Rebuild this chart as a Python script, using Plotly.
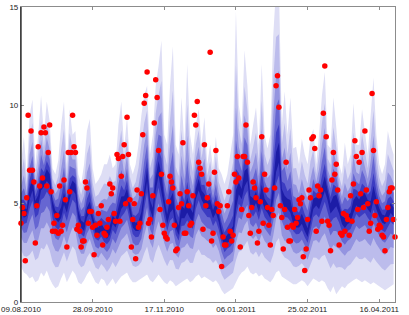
import pandas as pd
import plotly.graph_objects as go

# observed daily values (red dots), starting 09.08.2010
obs = [4.0, 4.8, 4.5, 2.1, 5.3, 9.5, 6.7, 8.7, 6.7, 6.1, 3.0, 4.9, 7.9, 5.9, 8.6, 6.3, 8.9, 8.6, 5.9, 7.6,
       9.0, 5.6, 3.6, 4.0, 3.6, 4.4, 3.5, 5.9, 3.6, 3.9, 6.2, 5.2, 2.8, 7.6, 5.6, 7.6, 9.5, 7.9, 7.6, 3.7,
       3.9, 3.6, 2.8, 3.1, 3.1, 6.1, 5.8, 4.0, 4.6, 4.6, 3.8, 2.4, 3.9, 3.4, 4.5, 4.0, 4.9, 2.9, 3.5, 3.4,
       3.8, 4.2, 6.0, 5.5, 5.8, 4.5, 4.1, 7.5, 7.3, 4.1, 6.4, 7.4, 8.0, 5.0, 9.4, 7.5, 5.2, 2.8, 4.2, 5.0,
       2.2, 5.7, 3.8, 4.0, 5.5, 8.5, 10.1, 10.5, 11.7, 4.0, 4.2, 3.3, 5.4, 9.1, 11.3, 10.4, 7.7, 4.7, 6.5, 3.9,
       3.5, 3.3, 3.2, 5.1, 6.4, 6.1, 5.8, 3.9, 2.6, 2.7, 4.8, 5.5, 5.0, 8.1, 3.5, 3.5, 5.6, 4.9, 3.9, 4.0,
       5.4, 9.5, 9.0, 10.2, 7.1, 6.8, 6.5, 3.7, 8.0, 4.9, 5.3, 6.0, 12.7, 3.1, 3.5, 6.6, 7.7, 5.0, 4.6, 4.9,
       1.8, 3.3, 2.9, 2.9, 4.9, 5.6, 3.6, 3.1, 3.4, 6.5, 6.1, 7.4, 6.3, 2.8, 4.7, 7.4, 7.4, 9.0, 7.1, 4.4,
       3.5, 4.8, 6.1, 5.8, 5.3, 3.0, 3.6, 5.1, 8.4, 4.0, 6.5, 5.7, 4.8, 3.9, 2.9, 4.7, 4.4, 5.8, 11.0, 11.5,
       9.9, 4.9, 4.3, 2.7, 4.7, 7.1, 3.8, 3.1, 3.1, 3.9, 3.8, 4.7, 4.0, 4.3, 5.2, 5.0, 5.3, 2.3, 1.6, 2.7,
       4.2, 5.7, 5.3, 8.3, 8.4, 7.8, 3.6, 5.9, 5.4, 5.7, 4.1, 9.6, 12.0, 8.4, 4.1, 3.9, 2.6, 6.2, 7.6, 6.5,
       7.0, 5.7, 2.9, 3.5, 3.4, 4.5, 3.6, 4.4, 4.2, 3.4, 5.4, 4.1, 6.0, 8.2, 7.4, 4.7, 7.1, 5.5, 7.6, 4.8,
       8.7, 5.7, 5.0, 3.6, 4.0, 10.6, 7.7, 4.4, 5.1, 3.7, 3.9, 3.8, 3.4, 3.3, 2.6, 4.2, 4.8, 5.6, 5.8, 5.8,
       4.2, 3.3]

# forecast distribution, every second day: outer lower, median, outer upper
band_lo = [1.8, 1.5, 1.4, 1.2, 1.3, 1.0, 1.1, 1.5, 1.3, 1.6, 1.2, 0.9, 0.7, 0.8, 1.2, 1.5, 1.0, 1.3, 1.6, 1.4,
           1.0, 0.9, 1.1, 1.4, 1.6, 1.3, 1.0, 0.9, 1.2, 1.1, 0.8, 1.0, 1.2, 0.9, 1.1, 1.3, 1.4, 1.5, 1.2, 1.0,
           1.0, 1.1, 1.2, 1.3, 1.4, 1.1, 1.0, 1.2, 1.4, 1.2, 1.0, 0.9, 1.1, 1.0, 0.8, 0.9, 1.0, 1.1, 1.2, 1.0,
           1.1, 1.3, 1.4, 1.2, 1.3, 1.2, 1.1, 1.0, 1.1, 0.9, 0.6, 0.4, 0.5, 0.6, 0.7, 1.0, 1.3, 1.5, 1.6, 1.8,
           1.5, 1.4, 1.5, 1.3, 1.4, 1.2, 1.1, 1.0, 1.2, 1.5, 1.6, 1.3, 1.2, 1.1, 1.0, 0.9, 0.9, 1.0, 1.1, 1.0,
           0.8, 1.0, 1.2, 1.1, 1.0, 1.1, 1.0, 0.7, 0.5, 0.8, 0.4, 0.6, 0.8, 0.7, 0.9, 1.0, 1.1, 1.2, 1.1, 1.0,
           1.1, 1.0, 0.9, 1.0, 0.9, 0.8, 0.7, 0.6, 0.7, 0.8, 0.9]
band_mid = [4.8, 4.5, 4.6, 5.5, 6.0, 5.0, 5.2, 6.0, 6.2, 6.5, 6.3, 5.0, 4.5, 4.3, 4.5, 5.2, 4.8, 5.5, 6.0, 5.8,
            4.5, 4.0, 3.8, 4.5, 4.8, 4.2, 3.7, 3.6, 3.8, 3.5, 3.4, 3.6, 4.2, 4.0, 4.5, 5.0, 5.2, 5.5, 4.8, 4.0,
            3.8, 3.8, 4.2, 5.5, 6.5, 5.0, 4.5, 6.0, 6.8, 6.0, 5.0, 4.2, 4.8, 5.0, 4.0, 3.6, 4.5, 4.5, 4.8, 4.5,
            4.3, 5.5, 6.0, 5.5, 5.2, 5.0, 5.0, 4.5, 4.8, 4.3, 3.5, 3.0, 3.2, 3.3, 3.5, 5.0, 5.8, 5.5, 6.2, 6.5,
            5.2, 5.0, 5.3, 4.8, 5.5, 5.0, 4.8, 4.5, 5.5, 7.0, 7.5, 5.5, 5.0, 5.0, 4.8, 4.2, 4.0, 4.0, 4.2, 3.8,
            3.5, 4.2, 5.0, 5.2, 5.0, 5.5, 6.0, 5.5, 4.8, 5.0, 5.2, 4.8, 4.2, 4.0, 4.2, 4.3, 4.8, 5.2, 5.0, 5.2,
            5.3, 5.0, 4.8, 5.5, 5.0, 4.6, 4.3, 4.2, 4.5, 4.8, 4.6]
band_hi = [7.0, 8.4, 6.5, 9.5, 10.3, 7.0, 8.5, 10.5, 8.5, 10.2, 9.2, 6.8, 6.5, 7.2, 9.0, 10.2, 7.0, 9.8, 8.5, 8.7,
           6.5, 6.0, 7.0, 8.7, 9.3, 6.8, 6.0, 6.2, 6.5, 7.0, 7.0, 7.5, 6.8, 7.0, 9.0, 10.2, 7.8, 9.4, 7.0, 6.5,
           7.0, 8.0, 9.5, 10.5, 11.0, 7.5, 8.5, 11.0, 12.0, 13.3, 8.5, 8.0, 11.0, 13.0, 8.0, 7.5, 10.4, 8.0, 12.1, 8.5,
           7.5, 9.0, 9.8, 8.0, 9.4, 7.0, 8.0, 6.8, 8.4, 6.8, 6.5, 6.0, 6.5, 7.5, 8.5, 14.8, 10.0, 9.0, 12.8, 11.0,
           8.0, 9.0, 9.9, 8.0, 12.1, 8.5, 7.8, 8.5, 13.5, 16.0, 16.0, 9.0, 10.7, 8.5, 10.4, 7.8, 7.9, 7.0, 8.3, 7.5,
           7.0, 8.3, 8.8, 7.0, 8.5, 10.5, 11.7, 8.0, 7.8, 10.4, 8.9, 7.0, 6.5, 8.1, 7.0, 7.5, 10.1, 8.0, 8.0, 9.8,
           8.5, 7.5, 9.5, 11.4, 8.5, 7.0, 6.5, 7.0, 8.7, 8.0, 7.5]

x_ticks = ["2010-08-09", "2010-09-28", "2010-11-17", "2011-01-06", "2011-02-25", "2011-04-16"]
x_tick_labels = ["09.08.2010", "28.09.2010", "17.11.2010", "06.01.2011", "25.02.2011", "16.04.2011"]
y_ticks = [0, 5, 10, 15]

dates = pd.date_range("2010-08-09", periods=len(obs), freq="D")
band_dates = pd.date_range("2010-08-09", periods=len(band_mid), freq="2D")

# shading levels: share of the distance from median to outer quantiles
levels = [1.0, 0.72, 0.5, 0.33, 0.18, 0.07]
colors = ["#dedef5", "#bcbcec", "#9494e0", "#6666d2", "#3c3cc2", "#1c1ca6"]

fig = go.Figure()
bx = list(band_dates) + list(band_dates[::-1])
for f, c in zip(levels, colors):
    up = [m + f * (h - m) for m, h in zip(band_mid, band_hi)]
    dn = [m - f * (m - l) for m, l in zip(band_mid, band_lo)]
    fig.add_trace(go.Scatter(x=bx, y=up + dn[::-1], fill="toself", fillcolor=c,
                             line=dict(width=0), mode="lines", hoverinfo="skip",
                             showlegend=False))

fig.add_trace(go.Scatter(x=dates, y=obs, mode="markers",
                         marker=dict(color="#ff0000", size=5.5, line=dict(width=0)),
                         cliponaxis=False, showlegend=False))

fig.update_layout(
    width=409, height=315, autosize=False,
    margin=dict(l=21, r=14, t=7, b=13, autoexpand=False),
    paper_bgcolor="white", plot_bgcolor="white",
    font=dict(family="Liberation Sans, Arial, sans-serif", size=8, color="#222"),
    showlegend=False,
)
fig.update_xaxes(range=[dates[0], dates[-1]], tickvals=x_ticks, ticktext=x_tick_labels,
                 automargin=False, ticklabelstandoff=-1,
                 showgrid=False, zeroline=False, showline=True, linecolor="#8c8c8c", linewidth=1.2,
                 mirror="ticks", ticks="inside", ticklen=3, tickcolor="#8c8c8c", tickfont=dict(size=8))
fig.update_yaxes(range=[0, 15], tickvals=y_ticks, showgrid=False, zeroline=False, automargin=False,
                 showline=True, linecolor="#8c8c8c", linewidth=1.2, mirror="ticks",
                 ticks="inside", ticklen=3, tickcolor="#8c8c8c", tickfont=dict(size=8))
fig.add_shape(type="line", xref="paper", yref="paper", x0=0, x1=0, y0=0, y1=1,
              line=dict(color="#111", width=1.2), layer="above")

fig.write_html("out.html", config={"displayModeBar": False},
               post_script="document.body.style.margin='0';document.body.style.overflow='hidden';")
